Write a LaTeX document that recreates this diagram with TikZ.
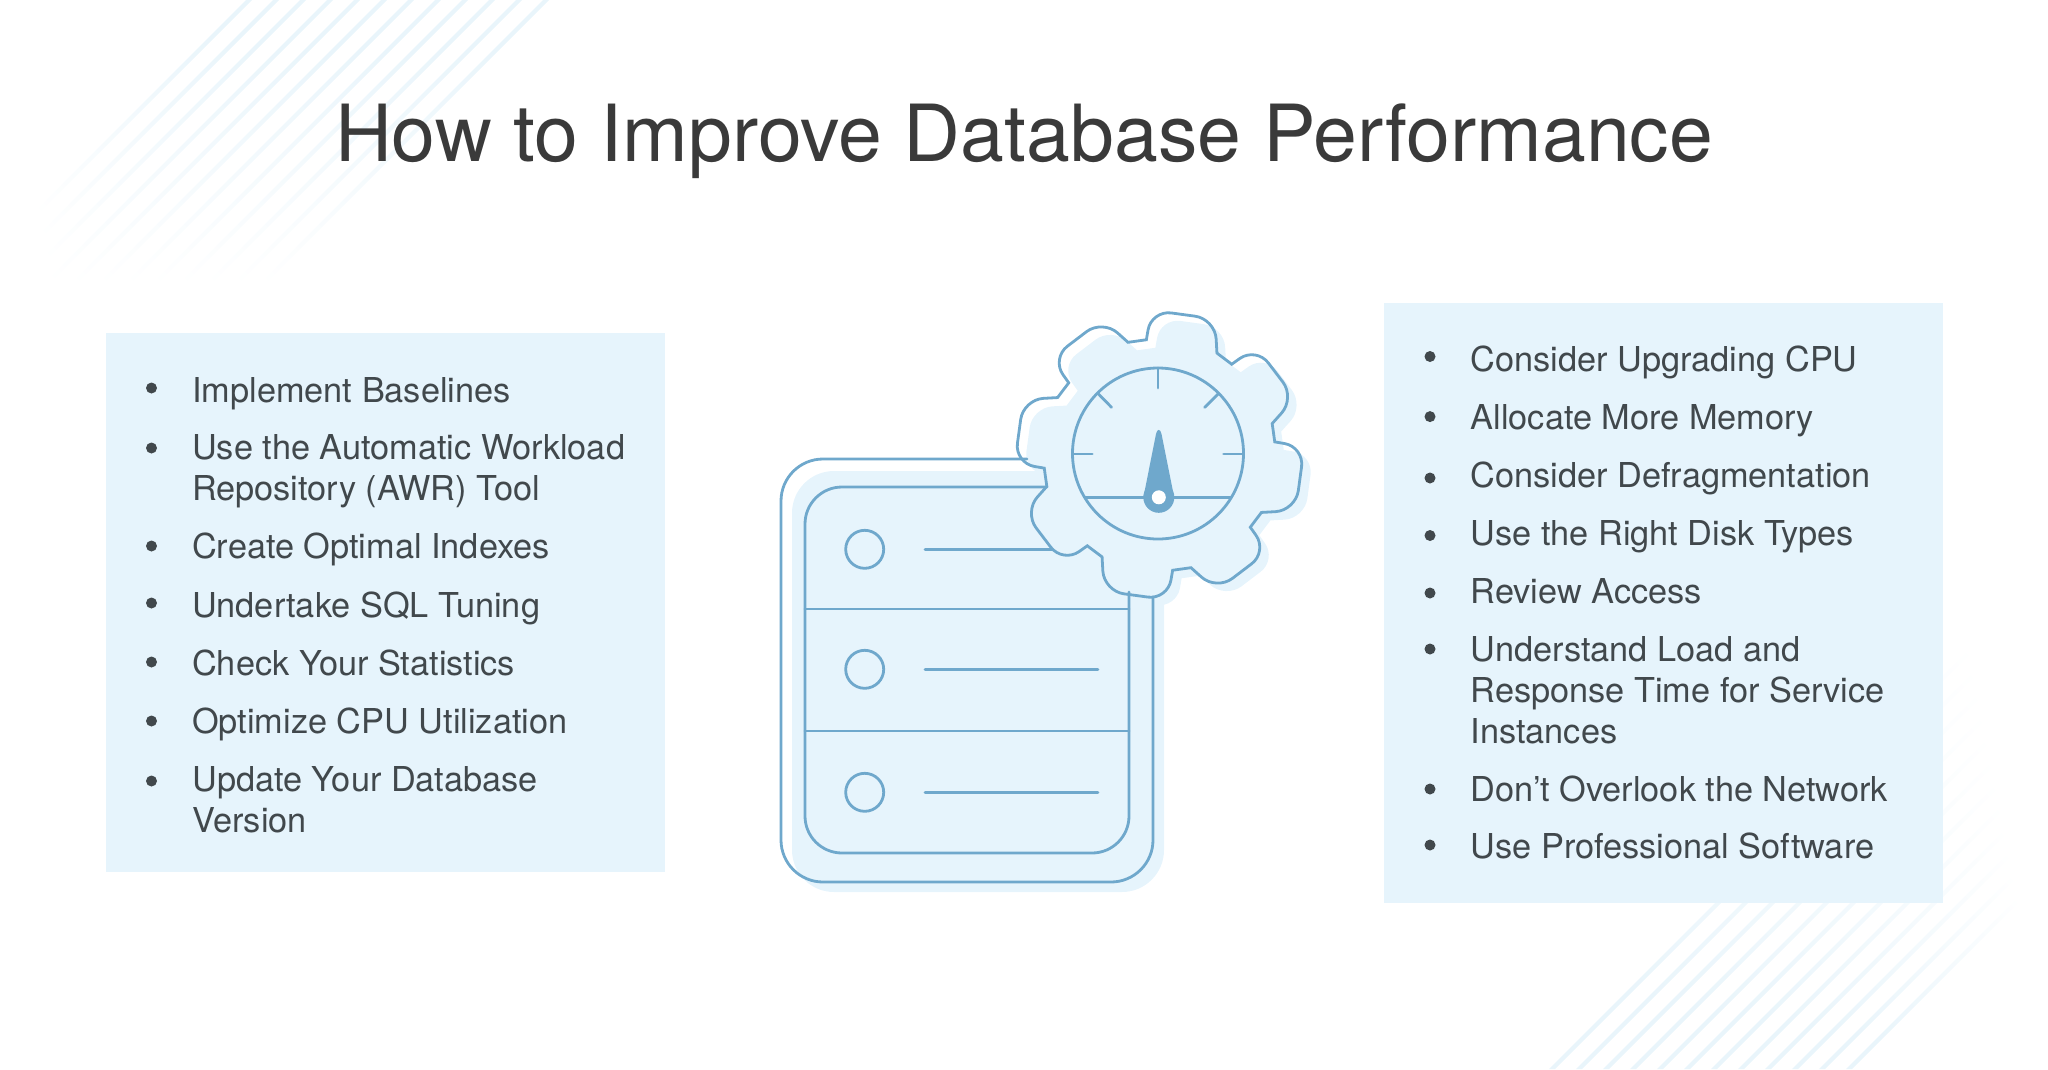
\documentclass[tikz,border=0pt]{standalone}
\usepackage{fontspec}
\setmainfont{TeX Gyre Heros}

\definecolor{boxblue}{HTML}{E6F4FC}
\definecolor{stripeblue}{HTML}{E9F5FB}
\definecolor{iconblue}{HTML}{6FA8CC}
\definecolor{titlegray}{HTML}{3A3A3A}
\definecolor{itemgray}{HTML}{41484C}

\tikzset{
  stripe/.style={top color=stripeblue, bottom color=white, shading angle=-45},
  stripeup/.style={top color=stripeblue, bottom color=white, shading angle=135},
  iconline/.style={draw=iconblue, line width=2.8pt, line cap=round},
  itemtext/.style={anchor=base west, inner sep=0pt, align=left, text=itemgray,
                   font=\fontsize{34.3}{41}\selectfont},
  itemdot/.style={circle, fill=itemgray, inner sep=0pt, minimum size=11pt}
}

\newcommand{\gearpath}{
  (-96.5:116) [rounded corners=20pt] -- (-93.2:145) -- (-67.8:147) [sharp corners] -- (-60.6:117)
  -- (-51.5:116) [rounded corners=20pt] -- (-48.2:145) -- (-22.8:147) [sharp corners] -- (-15.6:117)
  -- (-6.5:116)  [rounded corners=20pt] -- (-3.2:145)  -- (22.2:147)  [sharp corners] -- (29.4:117)
  -- (38.5:116)  [rounded corners=20pt] -- (41.8:145)  -- (67.2:147)  [sharp corners] -- (74.4:117)
  -- (83.5:116)  [rounded corners=20pt] -- (86.8:145)  -- (112.2:147) [sharp corners] -- (119.4:117)
  -- (128.5:116) [rounded corners=20pt] -- (131.8:145) -- (157.2:147) [sharp corners] -- (164.4:117)
  -- (173.5:116) [rounded corners=20pt] -- (176.8:145) -- (202.2:147) [sharp corners] -- (209.4:117)
  -- (218.5:116) [rounded corners=20pt] -- (221.8:145) -- (247.2:147) [sharp corners] -- (254.4:117)
  -- cycle
}

\begin{document}
\begin{tikzpicture}[x=1pt, y=-1pt]

        \useasboundingbox (0,0) rectangle (2048,1069);

        %Stripes top left
        \shade [stripe] (543,0) -- (549,0) -- (216,333) -- (210,333) -- cycle;
        \shade [stripe] (516,0) -- (522,0) -- (189,333) -- (183,333) -- cycle;
        \shade [stripe] (489,0) -- (495,0) -- (162,333) -- (156,333) -- cycle;
        \shade [stripe] (462,0) -- (468,0) -- (135,333) -- (129,333) -- cycle;
        \shade [stripe] (435,0) -- (441,0) -- (108,333) -- (102,333) -- cycle;
        \shade [stripe] (408,0) -- (414,0) -- (81,333)  -- (75,333)  -- cycle;
        \shade [stripe] (381,0) -- (387,0) -- (54,333)  -- (48,333)  -- cycle;
        \shade [stripe] (354,0) -- (360,0) -- (27,333)  -- (21,333)  -- cycle;
        \shade [stripe] (327,0) -- (333,0) -- (0,333)   -- (0,327)   -- cycle;
        \shade [stripe] (300,0) -- (306,0) -- (0,306)   -- (0,300)   -- cycle;
        \shade [stripe] (273,0) -- (279,0) -- (0,279)   -- (0,273)   -- cycle;
        \shade [stripe] (246,0) -- (252,0) -- (0,252)   -- (0,246)   -- cycle;

        %Stripes bottom right
        \shade [stripeup] (1549,1069) -- (1555,1069) -- (2048,576) -- (2048,570) -- cycle;
        \shade [stripeup] (1576,1069) -- (1582,1069) -- (2048,603) -- (2048,597) -- cycle;
        \shade [stripeup] (1603,1069) -- (1609,1069) -- (2048,630) -- (2048,624) -- cycle;
        \shade [stripeup] (1630,1069) -- (1636,1069) -- (2048,657) -- (2048,651) -- cycle;
        \shade [stripeup] (1657,1069) -- (1663,1069) -- (2048,684) -- (2048,678) -- cycle;
        \shade [stripeup] (1684,1069) -- (1690,1069) -- (2048,711) -- (2048,705) -- cycle;
        \shade [stripeup] (1711,1069) -- (1717,1069) -- (2048,738) -- (2048,732) -- cycle;
        \shade [stripeup] (1738,1069) -- (1744,1069) -- (2048,765) -- (2048,759) -- cycle;
        \shade [stripeup] (1765,1069) -- (1771,1069) -- (2048,792) -- (2048,786) -- cycle;
        \shade [stripeup] (1792,1069) -- (1798,1069) -- (2048,819) -- (2048,813) -- cycle;
        \shade [stripeup] (1819,1069) -- (1825,1069) -- (2048,846) -- (2048,840) -- cycle;
        \shade [stripeup] (1846,1069) -- (1852,1069) -- (2048,873) -- (2048,867) -- cycle;

        %Title
        \node [anchor=base, inner sep=0pt, text=titlegray, font=\fontsize{78.8}{90}\selectfont]
              (title) at (1024,161) {How to Improve Database Performance};

        %Left list
        \fill [boxblue] (105.5,333) rectangle (664.5,872);
        \node [itemdot]  (leftdota) at (151.5,388) {};
        \node [itemdot]  (leftdotb) at (151.5,448) {};
        \node [itemdot]  (leftdotc) at (151.5,546) {};
        \node [itemdot]  (leftdotd) at (151.5,603) {};
        \node [itemdot]  (leftdote) at (151.5,662) {};
        \node [itemdot]  (leftdotf) at (151.5,721) {};
        \node [itemdot]  (leftdotg) at (151.5,781) {};
        \node [itemtext] (lefta) at (192,402) {Implement Baselines};
        \node [itemtext] (leftb) at (192,500.5) {Use the Automatic Workload\\Repository (AWR) Tool};
        \node [itemtext] (leftc) at (192,558) {Create Optimal Indexes};
        \node [itemtext] (leftd) at (192,617) {Undertake SQL Tuning};
        \node [itemtext] (lefte) at (192,675) {Check Your Statistics};
        \node [itemtext] (leftf) at (192,733) {Optimize CPU Utilization};
        \node [itemtext] (leftg) at (192,832) {Update Your Database\\Version};

        %Right list
        \fill [boxblue] (1384,303) rectangle (1942.5,902.5);
        \node [itemdot]  (rightdota) at (1430,356.5) {};
        \node [itemdot]  (rightdotb) at (1430,416.6) {};
        \node [itemdot]  (rightdotc) at (1430,478) {};
        \node [itemdot]  (rightdotd) at (1430,535.5) {};
        \node [itemdot]  (rightdote) at (1430,593) {};
        \node [itemdot]  (rightdotf) at (1430,649) {};
        \node [itemdot]  (rightdotg) at (1430,789) {};
        \node [itemdot]  (rightdoth) at (1430,845) {};
        \node [itemtext] (righta) at (1470.5,371) {Consider Upgrading CPU};
        \node [itemtext] (rightb) at (1470.5,429) {Allocate More Memory};
        \node [itemtext] (rightc) at (1470.5,487) {Consider Defragmentation};
        \node [itemtext] (rightd) at (1470.5,545) {Use the Right Disk Types};
        \node [itemtext] (righte) at (1470.5,603) {Review Access};
        \node [itemtext] (rightf) at (1470.5,743) {Understand Load and\\Response Time for Service\\Instances};
        \node [itemtext] (rightg) at (1470.5,801) {Don’t Overlook the Network};
        \node [itemtext] (righth) at (1470.5,858) {Use Professional Software};

        %Server
        \fill [boxblue, rounded corners=42pt] (792,471) rectangle (1164,892);
        \fill [boxblue, shift={(1168.5,463)}] \gearpath;

        \draw [iconline, rounded corners=42pt] (1027,459) -- (781,459) -- (781,882) -- (1153,882) -- (1153,597);
        \draw [iconline, rounded corners=37pt] (1047,487) -- (805,487) -- (805,853) -- (1129,853) -- (1129,592);
        \draw [iconline] (805,609)  -- (1129,609);
        \draw [iconline] (805,731)  -- (1129,731);
        \draw [iconline] (864.7,549.3) circle (19);
        \draw [iconline] (864.7,669.3) circle (19);
        \draw [iconline] (864.7,792.3) circle (19);
        \draw [iconline] (925,549.3) -- (1052,549.3);
        \draw [iconline] (925,669.3) -- (1098,669.3);
        \draw [iconline] (925,792.3) -- (1098,792.3);

        %Gear and dial
        \draw [iconline, shift={(1159.5,455)}] \gearpath;
        \draw [iconline] (1158,453.5) circle (85.5);
        \draw [iconline] (1158,368) -- (1158,388);
        \draw [iconline] (1072.6,454) -- (1092.2,454);
        \draw [iconline] (1223.6,454) -- (1243.5,454);
        \draw [iconline] (1098.5,394) -- (1111.5,407.3);
        \draw [iconline] (1218,394)   -- (1204.7,407.3);
        \draw [iconline] (1084.8,497.3) -- (1230.6,497.3);

        %Needle
        \fill [iconblue] (1156,434) .. controls (1157,428.5) and (1160.5,428.5) .. (1161.5,434)
              -- (1174.2,497.3) -- (1143.4,497.3) -- cycle;
        \fill [iconblue] (1158.8,497.3) circle (15.5);
        \fill [white]    (1158.8,497.3) circle (7);

\end{tikzpicture}
\end{document}
